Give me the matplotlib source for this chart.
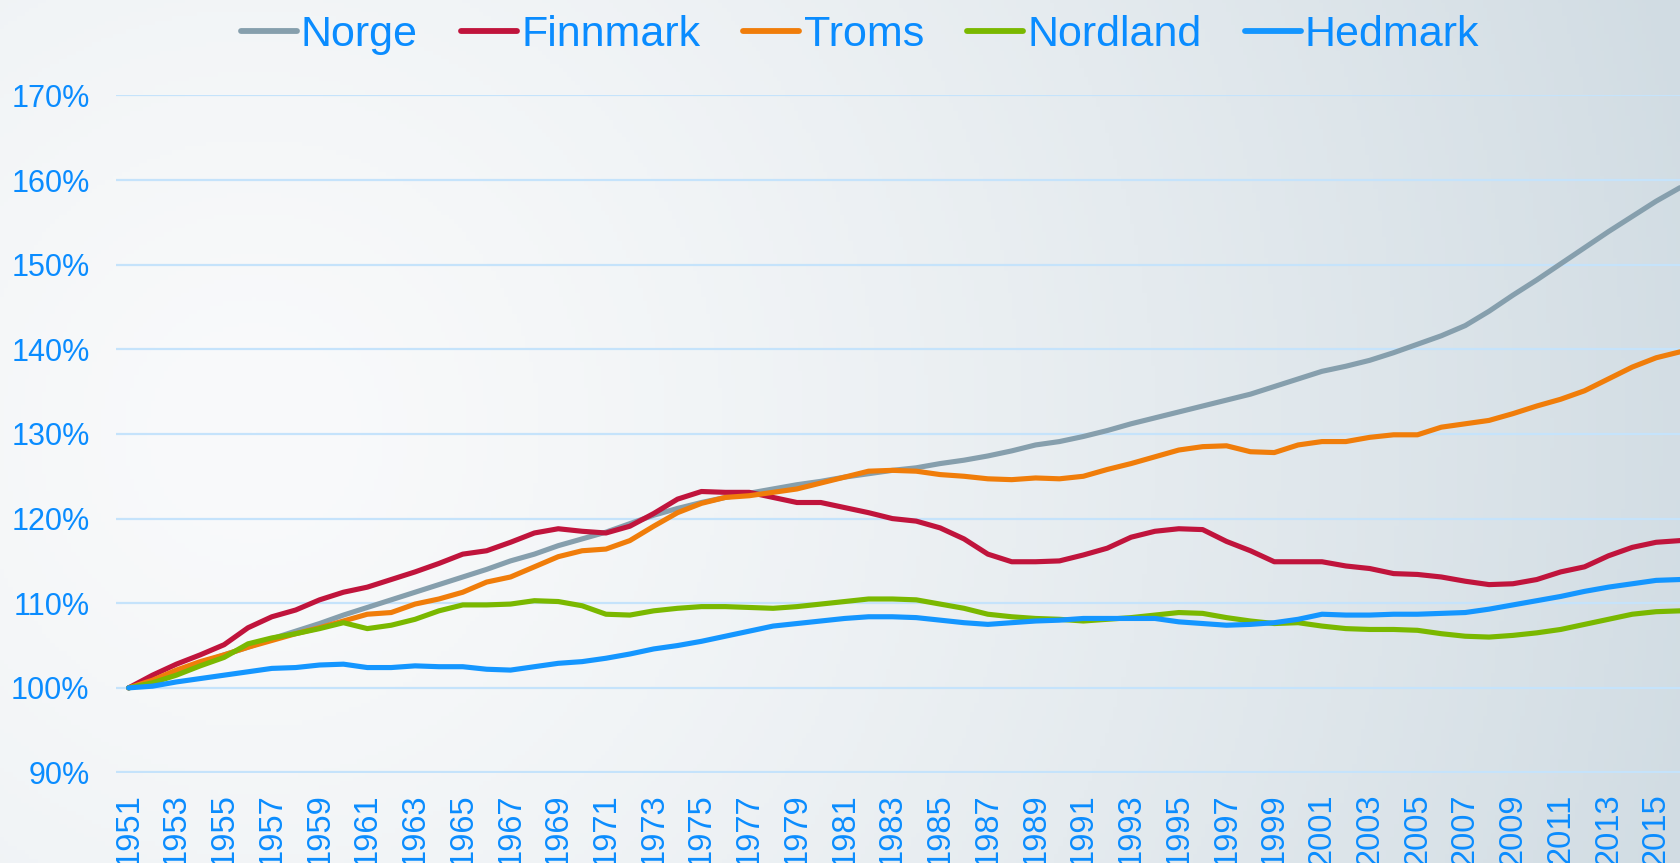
import numpy as np
import matplotlib
matplotlib.use('Agg')
import matplotlib.pyplot as plt

plt.rcParams['font.family'] = ['Liberation Sans', 'DejaVu Sans']

years = list(range(1951, 2017))

norge = [100.0, 100.9, 101.9, 102.9, 103.9, 104.8, 105.8, 106.7, 107.6, 108.6,
         109.5, 110.4, 111.3, 112.2, 113.1, 114.0, 115.0, 115.8, 116.8, 117.6,
         118.4, 119.4, 120.4, 121.2, 121.9, 122.5, 123.0, 123.5, 124.0, 124.4,
         124.9, 125.3, 125.7, 126.0, 126.5, 126.9, 127.4, 128.0, 128.7, 129.1,
         129.7, 130.4, 131.2, 131.9, 132.6, 133.3, 134.0, 134.7, 135.6, 136.5,
         137.4, 138.0, 138.7, 139.6, 140.6, 141.6, 142.8, 144.5, 146.4, 148.2,
         150.1, 152.0, 153.9, 155.7, 157.5, 159.1]

finnmark = [100.0, 101.5, 102.8, 103.9, 105.1, 107.1, 108.4, 109.2, 110.4, 111.3,
            111.9, 112.8, 113.7, 114.7, 115.8, 116.2, 117.2, 118.3, 118.8, 118.5,
            118.3, 119.1, 120.6, 122.3, 123.2, 123.1, 123.1, 122.5, 121.9, 121.9,
            121.3, 120.7, 120.0, 119.7, 118.9, 117.6, 115.8, 114.9, 114.9, 115.0,
            115.7, 116.5, 117.8, 118.5, 118.8, 118.7, 117.3, 116.2, 114.9, 114.9,
            114.9, 114.4, 114.1, 113.5, 113.4, 113.1, 112.6, 112.2, 112.3, 112.8,
            113.7, 114.3, 115.6, 116.6, 117.2, 117.4]

troms = [100.0, 100.9, 102.1, 103.1, 103.9, 104.8, 105.6, 106.4, 107.1, 107.9,
         108.7, 108.9, 109.9, 110.5, 111.3, 112.5, 113.1, 114.3, 115.5, 116.2,
         116.4, 117.4, 119.1, 120.7, 121.8, 122.5, 122.7, 123.1, 123.5, 124.2,
         124.9, 125.6, 125.7, 125.6, 125.2, 125.0, 124.7, 124.6, 124.8, 124.7,
         125.0, 125.8, 126.5, 127.3, 128.1, 128.5, 128.6, 127.9, 127.8, 128.7,
         129.1, 129.1, 129.6, 129.9, 129.9, 130.8, 131.2, 131.6, 132.4, 133.3,
         134.1, 135.1, 136.5, 137.9, 139.0, 139.7]

nordland = [100.0, 100.6, 101.5, 102.6, 103.6, 105.2, 105.9, 106.4, 107.0, 107.7,
            107.0, 107.4, 108.1, 109.1, 109.8, 109.8, 109.9, 110.3, 110.2, 109.7,
            108.7, 108.6, 109.1, 109.4, 109.6, 109.6, 109.5, 109.4, 109.6, 109.9,
            110.2, 110.5, 110.5, 110.4, 109.9, 109.4, 108.7, 108.4, 108.2, 108.1,
            107.9, 108.1, 108.3, 108.6, 108.9, 108.8, 108.3, 107.9, 107.6, 107.7,
            107.3, 107.0, 106.9, 106.9, 106.8, 106.4, 106.1, 106.0, 106.2, 106.5,
            106.9, 107.5, 108.1, 108.7, 109.0, 109.1]

hedmark = [100.0, 100.2, 100.7, 101.1, 101.5, 101.9, 102.3, 102.4, 102.7, 102.8,
           102.4, 102.4, 102.6, 102.5, 102.5, 102.2, 102.1, 102.5, 102.9, 103.1,
           103.5, 104.0, 104.6, 105.0, 105.5, 106.1, 106.7, 107.3, 107.6, 107.9,
           108.2, 108.4, 108.4, 108.3, 108.0, 107.7, 107.5, 107.7, 107.9, 108.0,
           108.2, 108.2, 108.2, 108.2, 107.8, 107.6, 107.4, 107.5, 107.7, 108.1,
           108.7, 108.6, 108.6, 108.7, 108.7, 108.8, 108.9, 109.3, 109.8, 110.3,
           110.8, 111.4, 111.9, 112.3, 112.7, 112.8]

names = ['Norge', 'Finnmark', 'Troms', 'Nordland', 'Hedmark']
colors = ['#869FAD', '#C0143C', '#F07D0A', '#7AB800', '#1496FF']
text_color = '#0A8CFF'

fig = plt.figure(figsize=(16.8, 8.63), dpi=100)

# background gradient, light at left, grey-blue towards the right
bg = fig.add_axes([0, 0, 1, 1], zorder=-10)
h, w = 200, 400
yy, xx = np.mgrid[0:h, 0:w]
d = np.sqrt(((xx / w) - 0.15) ** 2 + (((yy / h) - 0.5) * 0.5) ** 2)
t = np.clip(d / 0.88, 0, 1) ** 1.4
light = np.array([249, 250, 251]) / 255
dark = np.array([209, 220, 227]) / 255
img = light[None, None, :] * (1 - t[..., None]) + dark[None, None, :] * t[..., None]
bg.imshow(img, aspect='auto', extent=[0, 1, 0, 1], origin='upper')
bg.axis('off')

ax = fig.add_axes([116 / 1680, 1 - 772.5 / 863, 1 - 116 / 1680, (772.5 - 95.4) / 863])
ax.patch.set_alpha(0)

series = [norge, finnmark, troms, nordland, hedmark]
for name, vals, c in zip(names, series, colors):
    ax.plot(years, vals, color=c, lw=3.7, label=name,
            solid_joinstyle='round', solid_capstyle='round')

ax.set_xlim(1950.47, 2016.0)
ax.set_ylim(90, 170)
ax.set_yticks(range(90, 171, 10))
ax.set_yticklabels([f'{v}%' for v in range(90, 171, 10)])
ax.set_xticks(range(1951, 2016, 2))
ax.set_xticklabels([str(y) for y in range(1951, 2016, 2)], rotation=90)
ax.grid(axis='y', color='#C5E3FB', lw=1.6)
ax.set_axisbelow(True)
for s in ax.spines.values():
    s.set_visible(False)
ax.tick_params(axis='both', length=0, colors=text_color)
ax.tick_params(axis='y', pad=19, labelsize=22)
ax.tick_params(axis='x', pad=15, labelsize=23.5)

leg = fig.legend(loc='center', bbox_to_anchor=(860 / 1680, 1 - 35 / 863), ncol=5,
                 frameon=False, fontsize=31, handlelength=1.3, handletextpad=0.1,
                 columnspacing=1.0, labelcolor=text_color)
for line in leg.get_lines():
    line.set_linewidth(4.2)
    line.set_solid_capstyle('round')

fig.savefig('out.png', dpi=100)
